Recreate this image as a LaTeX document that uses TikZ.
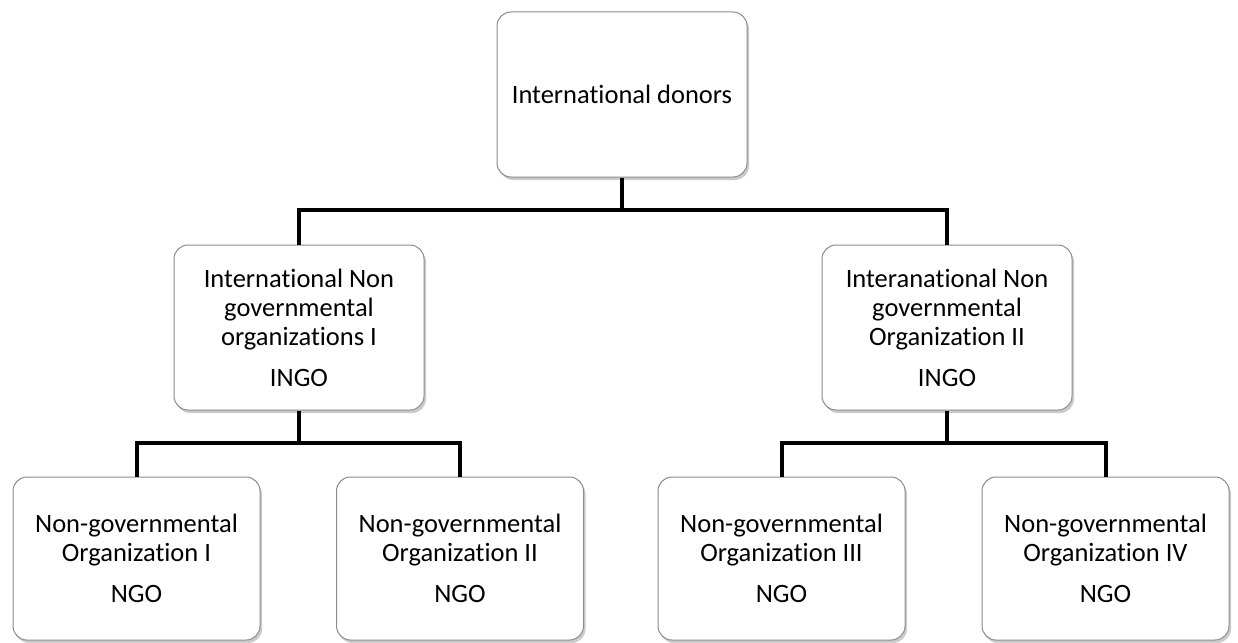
\documentclass[tikz,border=0pt]{standalone}
\usepackage{fontspec}
\setmainfont[Ligatures=NoCommon]{Carlito}
\usetikzlibrary{shadows}
\definecolor{boxgray}{HTML}{8C8C8C}
\begin{document}
\begin{tikzpicture}[x=1pt,y=-1pt,
  orgbox/.style={draw=boxgray, line width=1pt, fill=white, rounded corners=14pt,
    align=center, inner sep=0pt, font=\fontsize{26.5}{29}\selectfont,
    drop shadow={shadow xshift=2pt, shadow yshift=-3pt, fill=black!40, opacity=0.5}},
  topbox/.style={orgbox, minimum width=250pt, minimum height=165pt},
  ngobox/.style={orgbox, minimum width=247pt, minimum height=163pt},
  link/.style={line width=4pt, line join=miter}]
\useasboundingbox (0,0) rectangle (1238,642);
\fill[white] (0,0) rectangle (1238,642);
\node[topbox] (top) at (622,94.5) {International donors};
\node[topbox] (ingoA) at (299,327.5) {International Non\\governmental\\organizations I\\[12pt]INGO};
\node[topbox] (ingoB) at (947,327.5) {Interanational Non\\governmental\\Organization II\\[12pt]INGO};
\node[ngobox] (ngoA) at (136.5,558.5) {Non-governmental\\Organization I\\[12pt]NGO};
\node[ngobox] (ngoB) at (460,558.5) {Non-governmental\\Organization II\\[12pt]NGO};
\node[ngobox] (ngoC) at (781.5,558.5) {Non-governmental\\Organization III\\[12pt]NGO};
\node[ngobox] (ngoD) at (1105.5,558.5) {Non-governmental\\Organization IV\\[12pt]NGO};
\coordinate (j1) at (622,210);
\coordinate (j2) at (299,443);
\coordinate (j3) at (947,443);
\draw[link] (top.south) -- (j1);
\draw[link] (j1) -| (ingoA.north);
\draw[link] (j1) -| (ingoB.north);
\draw[link] (ingoA.south) -- (j2);
\draw[link] (j2) -| (ngoA.north);
\draw[link] (j2) -| (ngoB.north);
\draw[link] (ingoB.south) -- (j3);
\draw[link] (j3) -| (ngoC.north);
\draw[link] (j3) -| (ngoD.north);
\end{tikzpicture}
\end{document}
